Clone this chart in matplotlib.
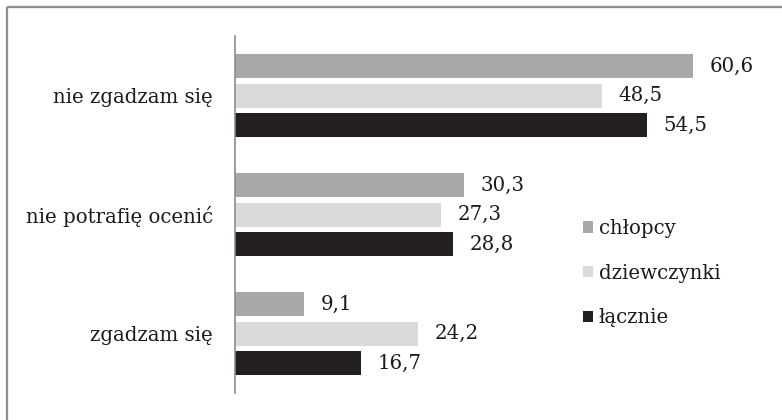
import matplotlib
matplotlib.use("Agg")
import matplotlib.pyplot as plt
from matplotlib.lines import Line2D
import numpy as np

categories = ["nie zgadzam się", "nie potrafię ocenić", "zgadzam się"]
series_names = ["chłopcy", "dziewczynki", "łącznie"]
chlopcy = [60.6, 30.3, 9.1]
dziewczynki = [48.5, 27.3, 24.2]
lacznie = [54.5, 28.8, 16.7]
colors = ["#a7a8aa", "#d9dadb", "#231f20"]

plt.rcParams["font.family"] = ["DejaVu Serif"]
text_color = "#1c1a1b"
fs = 14.2

fig = plt.figure(figsize=(7.82, 4.2), dpi=100)
ax = fig.add_axes([0.3005, 0.064, 0.677, 0.850])

y = np.arange(len(categories))
offsets = [-0.248, 0.0, 0.248]
bar_h = 0.2
for vals, off, col, name in zip([chlopcy, dziewczynki, lacznie], offsets, colors, series_names):
    bars = ax.barh(y + off, vals, height=bar_h, color=col, label=name)
    for b, v in zip(bars, vals):
        ax.annotate(f"{v:.1f}".replace(".", ","),
                    xy=(b.get_width(), b.get_y() + b.get_height() / 2),
                    xytext=(12, 0), textcoords="offset points",
                    va="center", ha="left", fontsize=fs, color=text_color)

ax.set_xlim(0, 70)
ax.set_ylim(2.5, -0.5)
ax.set_yticks(y)
ax.set_yticklabels(categories, fontsize=fs, color=text_color)
ax.set_xticks([])
ax.tick_params(axis="y", length=0, pad=16)
for s in ["top", "right", "bottom"]:
    ax.spines[s].set_visible(False)
ax.spines["left"].set_color("#8c8c8c")
ax.spines["left"].set_linewidth(1.2)

leg = fig.legend(loc="upper left", bbox_to_anchor=(583 / 782, 1 - 219 / 420),
                 frameon=False, fontsize=fs, handlelength=0.5, handleheight=0.5,
                 handletextpad=0.3, labelspacing=1.3, borderpad=0, borderaxespad=0)
for t in leg.get_texts():
    t.set_color(text_color)

# frame around the figure (left and top edges)
fig.add_artist(Line2D([6.5 / 782, 6.5 / 782], [0, 1 - 7 / 420], transform=fig.transFigure,
                      color="#8f8f8f", linewidth=1.6, solid_capstyle="butt"))
fig.add_artist(Line2D([6.5 / 782, 1], [1 - 7 / 420, 1 - 7 / 420], transform=fig.transFigure,
                      color="#8f8f8f", linewidth=1.6, solid_capstyle="butt"))

fig.savefig("out.png", dpi=100)
